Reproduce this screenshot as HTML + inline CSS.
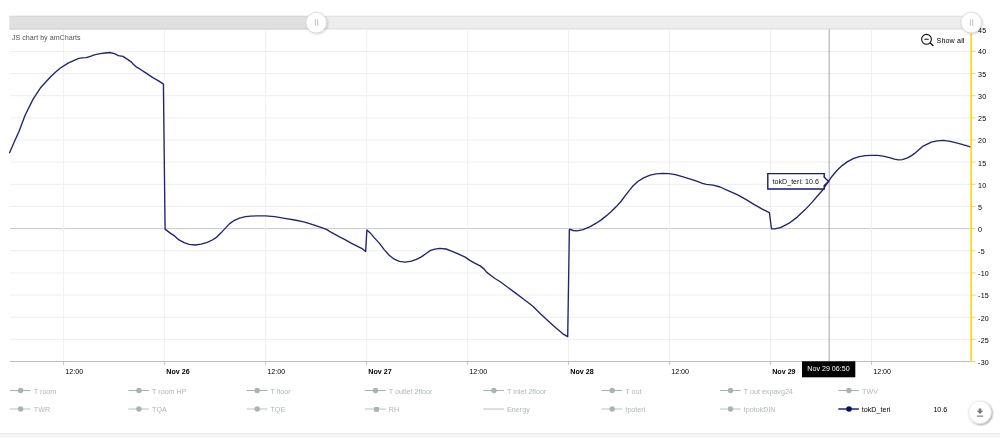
<!DOCTYPE html>
<html><head><meta charset="utf-8"><title>chart</title>
<style>
html,body{margin:0;padding:0;background:#fff;}
body{width:1000px;height:438px;overflow:hidden;position:relative;font-family:"Liberation Sans",sans-serif;}
</style></head><body>
<svg width="1000" height="438" viewBox="0 0 1000 438" style="position:absolute;left:0;top:0;font-family:'Liberation Sans',sans-serif;">
<defs><filter id="sh2" x="-30%" y="-30%" width="160%" height="160%"><feGaussianBlur in="SourceAlpha" stdDeviation="0.9"/><feOffset dx="0.6" dy="0.9"/><feComponentTransfer><feFuncA type="linear" slope="0.42"/></feComponentTransfer><feMerge><feMergeNode/><feMergeNode in="SourceGraphic"/></feMerge></filter><filter id="soft" x="0" y="0" width="1000" height="438" filterUnits="userSpaceOnUse"><feGaussianBlur stdDeviation="0.3"/></filter><filter id="sh" x="-30%" y="-30%" width="160%" height="160%"><feGaussianBlur in="SourceAlpha" stdDeviation="1"/><feOffset dx="0.7" dy="0.7"/><feComponentTransfer><feFuncA type="linear" slope="0.18"/></feComponentTransfer><feMerge><feMergeNode/><feMergeNode in="SourceGraphic"/></feMerge></filter></defs>
<rect width="1000" height="438" fill="#fff"/>
<g filter="url(#soft)">
<rect x="0" y="433" width="1000" height="5" fill="#f6f6f6"/>
<rect x="0" y="432.9" width="1000" height="1.0" fill="#e8eaed"/>
<line x1="10.0" x2="970.8" y1="339.35" y2="339.35" stroke="#eeeeee" stroke-width="1.0"/>
<line x1="10.0" x2="970.8" y1="317.20" y2="317.20" stroke="#eeeeee" stroke-width="1.0"/>
<line x1="10.0" x2="970.8" y1="295.05" y2="295.05" stroke="#eeeeee" stroke-width="1.0"/>
<line x1="10.0" x2="970.8" y1="272.90" y2="272.90" stroke="#eeeeee" stroke-width="1.0"/>
<line x1="10.0" x2="970.8" y1="250.75" y2="250.75" stroke="#eeeeee" stroke-width="1.0"/>
<line x1="10.0" x2="970.8" y1="228.60" y2="228.60" stroke="#c9c9c9" stroke-width="1.0"/>
<line x1="10.0" x2="970.8" y1="206.45" y2="206.45" stroke="#eeeeee" stroke-width="1.0"/>
<line x1="10.0" x2="970.8" y1="184.30" y2="184.30" stroke="#eeeeee" stroke-width="1.0"/>
<line x1="10.0" x2="970.8" y1="162.15" y2="162.15" stroke="#eeeeee" stroke-width="1.0"/>
<line x1="10.0" x2="970.8" y1="140.00" y2="140.00" stroke="#eeeeee" stroke-width="1.0"/>
<line x1="10.0" x2="970.8" y1="117.85" y2="117.85" stroke="#eeeeee" stroke-width="1.0"/>
<line x1="10.0" x2="970.8" y1="95.70" y2="95.70" stroke="#eeeeee" stroke-width="1.0"/>
<line x1="10.0" x2="970.8" y1="73.55" y2="73.55" stroke="#eeeeee" stroke-width="1.0"/>
<line x1="10.0" x2="970.8" y1="51.40" y2="51.40" stroke="#eeeeee" stroke-width="1.0"/>
<line x1="63.61" x2="63.61" y1="29.25" y2="364.50" stroke="#f0f0f0" stroke-width="1.0"/>
<line x1="164.60" x2="164.60" y1="29.25" y2="364.50" stroke="#f0f0f0" stroke-width="1.0"/>
<line x1="265.59" x2="265.59" y1="29.25" y2="364.50" stroke="#f0f0f0" stroke-width="1.0"/>
<line x1="366.58" x2="366.58" y1="29.25" y2="364.50" stroke="#f0f0f0" stroke-width="1.0"/>
<line x1="467.57" x2="467.57" y1="29.25" y2="364.50" stroke="#f0f0f0" stroke-width="1.0"/>
<line x1="568.56" x2="568.56" y1="29.25" y2="364.50" stroke="#f0f0f0" stroke-width="1.0"/>
<line x1="669.55" x2="669.55" y1="29.25" y2="364.50" stroke="#f0f0f0" stroke-width="1.0"/>
<line x1="770.54" x2="770.54" y1="29.25" y2="364.50" stroke="#f0f0f0" stroke-width="1.0"/>
<line x1="871.53" x2="871.53" y1="29.25" y2="364.50" stroke="#f0f0f0" stroke-width="1.0"/>
<line x1="63.61" x2="63.61" y1="361.50" y2="364.80" stroke="#c6c6c6" stroke-width="1.0"/>
<line x1="164.60" x2="164.60" y1="361.50" y2="364.80" stroke="#c6c6c6" stroke-width="1.0"/>
<line x1="265.59" x2="265.59" y1="361.50" y2="364.80" stroke="#c6c6c6" stroke-width="1.0"/>
<line x1="366.58" x2="366.58" y1="361.50" y2="364.80" stroke="#c6c6c6" stroke-width="1.0"/>
<line x1="467.57" x2="467.57" y1="361.50" y2="364.80" stroke="#c6c6c6" stroke-width="1.0"/>
<line x1="568.56" x2="568.56" y1="361.50" y2="364.80" stroke="#c6c6c6" stroke-width="1.0"/>
<line x1="669.55" x2="669.55" y1="361.50" y2="364.80" stroke="#c6c6c6" stroke-width="1.0"/>
<line x1="770.54" x2="770.54" y1="361.50" y2="364.80" stroke="#c6c6c6" stroke-width="1.0"/>
<line x1="871.53" x2="871.53" y1="361.50" y2="364.80" stroke="#c6c6c6" stroke-width="1.0"/>
<line x1="10.0" x2="970.8" y1="361.50" y2="361.50" stroke="#b4b4b4" stroke-width="0.9"/>
<text transform="translate(65.3,373.6) scale(1,0.94)" font-size="7.15" fill="#000">12:00</text>
<text transform="translate(166.3,373.6) scale(1,0.94)" font-size="7.15" fill="#000" font-weight="bold">Nov 26</text>
<text transform="translate(267.3,373.6) scale(1,0.94)" font-size="7.15" fill="#000">12:00</text>
<text transform="translate(368.3,373.6) scale(1,0.94)" font-size="7.15" fill="#000" font-weight="bold">Nov 27</text>
<text transform="translate(469.3,373.6) scale(1,0.94)" font-size="7.15" fill="#000">12:00</text>
<text transform="translate(570.3,373.6) scale(1,0.94)" font-size="7.15" fill="#000" font-weight="bold">Nov 28</text>
<text transform="translate(671.2,373.6) scale(1,0.94)" font-size="7.15" fill="#000">12:00</text>
<text transform="translate(772.2,373.6) scale(1,0.94)" font-size="7.15" fill="#000" font-weight="bold">Nov 29</text>
<text transform="translate(873.2,373.6) scale(1,0.94)" font-size="7.15" fill="#000">12:00</text>
<rect x="9.5" y="15.7" width="961.5" height="13.9" fill="#ededed"/>
<rect x="9.5" y="15.7" width="307" height="13.9" fill="#e0e0e0"/>
<rect x="9.5" y="15.7" width="961.5" height="1.2" fill="#000" fill-opacity="0.035"/>
<rect x="9.5" y="28.3" width="961.5" height="1.3" fill="#000" fill-opacity="0.055"/>
<text transform="translate(12,39.6) scale(1,0.94)" font-size="7.15" fill="#555">JS chart by amCharts</text>
<line x1="829.2" x2="829.2" y1="29.25" y2="361.50" stroke="#9c9c9c" stroke-width="0.9"/>
<path d="M9.6,152.7 L14.1,142.3 L19.1,131.2 L25.1,115.2 L33.1,99.1 L41.0,87.2 L46.0,81.7 L51.1,76.2 L55.1,72.6 L60.1,68.3 L68.1,63.1 L74.2,60.3 L78.7,58.3 L82.2,57.9 L86.2,57.6 L90.3,56.3 L94.3,54.9 L100.3,53.7 L105.3,53.0 L109.8,52.5 L114.4,53.7 L118.4,55.6 L122.9,56.4 L126.4,58.6 L131.5,62.1 L133.1,64.0 L136.6,67.2 L140.1,69.2 L146.1,73.1 L153.2,77.9 L158.2,80.6 L163.4,84.1 L165.1,229.1 L169.6,232.6 L174.1,235.6 L178.6,239.7 L184.1,242.7 L189.2,244.4 L195.2,245.0 L201.2,244.2 L207.3,242.4 L212.3,240.0 L216.8,237.1 L221.3,232.6 L225.4,228.1 L229.4,223.9 L234.4,220.3 L239.4,218.1 L245.5,216.6 L250.5,216.2 L256.5,215.9 L265.6,215.9 L274.6,216.7 L284.7,218.3 L294.7,220.0 L303.8,221.8 L312.8,224.6 L320.9,227.4 L326.9,229.6 L330.9,232.2 L340.0,237.1 L345.0,239.6 L351.1,243.1 L357.1,246.1 L362.6,248.9 L365.6,251.6 L366.9,230.0 L370.2,232.9 L374.2,237.6 L379.7,243.6 L384.2,249.6 L389.2,255.2 L394.3,259.2 L399.3,261.4 L405.3,262.2 L411.4,261.2 L416.4,259.4 L421.4,256.9 L426.4,253.2 L430.5,250.4 L435.0,249.2 L440.0,248.3 L446.1,249.0 L452.1,251.3 L458.1,253.9 L465.2,257.1 L470.2,260.6 L475.2,263.4 L480.2,265.9 L484.2,269.1 L486.8,272.4 L491.3,275.7 L495.3,278.7 L500.3,281.8 L514.6,292.4 L523.4,299.0 L532.9,306.3 L540.2,313.6 L548.2,320.9 L556.3,328.2 L562.9,333.8 L567.7,336.7 L569.4,229.2 L573.1,230.5 L577.1,230.9 L583.1,229.7 L590.2,226.7 L596.2,223.2 L601.2,219.9 L606.2,215.9 L611.3,211.6 L616.3,206.6 L621.3,201.0 L626.0,194.7 L632.6,186.3 L638.1,181.3 L644.1,177.6 L650.2,175.1 L656.2,173.8 L663.2,173.3 L669.2,173.6 L675.3,174.6 L682.3,176.6 L690.4,179.1 L697.4,181.4 L702.4,183.3 L706.4,184.3 L713.1,185.2 L720.1,187.0 L728.1,190.6 L737.2,194.6 L746.2,199.6 L754.3,204.6 L762.3,209.2 L769.4,212.7 L771.5,228.8 L775.0,228.9 L781.1,227.4 L789.1,223.2 L797.2,217.1 L805.2,209.6 L812.2,202.1 L818.3,195.0 L822.8,190.0 L828.1,181.9 L832.1,176.2 L837.1,170.2 L842.1,165.6 L847.2,161.9 L853.2,158.6 L859.2,156.6 L865.3,155.6 L871.3,155.3 L877.3,155.4 L883.3,156.1 L889.4,157.6 L894.4,159.1 L898.4,159.8 L902.4,159.6 L907.5,157.9 L911.5,155.6 L914.6,153.4 L923.2,146.1 L931.3,142.1 L937.3,140.8 L943.3,140.4 L950.4,141.3 L958.4,143.4 L965.4,145.4 L970.3,146.9" fill="none" stroke="#20246f" stroke-width="1.35" stroke-linejoin="round" stroke-linecap="round"/>
<line x1="971.1" x2="971.1" y1="29.25" y2="361.50" stroke="#fcd202" stroke-width="1.5"/>
<line x1="971.1" x2="975.5" y1="361.50" y2="361.50" stroke="#fcd202" stroke-width="0.8"/>
<text transform="translate(978.1,364.9) scale(1,0.94)" font-size="7.15" letter-spacing="0.15" fill="#000">-30</text>
<line x1="971.1" x2="975.5" y1="339.35" y2="339.35" stroke="#fcd202" stroke-width="0.8"/>
<text transform="translate(978.1,342.8) scale(1,0.94)" font-size="7.15" letter-spacing="0.15" fill="#000">-25</text>
<line x1="971.1" x2="975.5" y1="317.20" y2="317.20" stroke="#fcd202" stroke-width="0.8"/>
<text transform="translate(978.1,320.6) scale(1,0.94)" font-size="7.15" letter-spacing="0.15" fill="#000">-20</text>
<line x1="971.1" x2="975.5" y1="295.05" y2="295.05" stroke="#fcd202" stroke-width="0.8"/>
<text transform="translate(978.1,298.4) scale(1,0.94)" font-size="7.15" letter-spacing="0.15" fill="#000">-15</text>
<line x1="971.1" x2="975.5" y1="272.90" y2="272.90" stroke="#fcd202" stroke-width="0.8"/>
<text transform="translate(978.1,276.3) scale(1,0.94)" font-size="7.15" letter-spacing="0.15" fill="#000">-10</text>
<line x1="971.1" x2="975.5" y1="250.75" y2="250.75" stroke="#fcd202" stroke-width="0.8"/>
<text transform="translate(978.1,254.2) scale(1,0.94)" font-size="7.15" letter-spacing="0.15" fill="#000">-5</text>
<line x1="971.1" x2="975.5" y1="228.60" y2="228.60" stroke="#fcd202" stroke-width="0.8"/>
<text transform="translate(978.1,232.0) scale(1,0.94)" font-size="7.15" letter-spacing="0.15" fill="#000">0</text>
<line x1="971.1" x2="975.5" y1="206.45" y2="206.45" stroke="#fcd202" stroke-width="0.8"/>
<text transform="translate(978.1,209.8) scale(1,0.94)" font-size="7.15" letter-spacing="0.15" fill="#000">5</text>
<line x1="971.1" x2="975.5" y1="184.30" y2="184.30" stroke="#fcd202" stroke-width="0.8"/>
<text transform="translate(978.1,187.7) scale(1,0.94)" font-size="7.15" letter-spacing="0.15" fill="#000">10</text>
<line x1="971.1" x2="975.5" y1="162.15" y2="162.15" stroke="#fcd202" stroke-width="0.8"/>
<text transform="translate(978.1,165.6) scale(1,0.94)" font-size="7.15" letter-spacing="0.15" fill="#000">15</text>
<line x1="971.1" x2="975.5" y1="140.00" y2="140.00" stroke="#fcd202" stroke-width="0.8"/>
<text transform="translate(978.1,143.4) scale(1,0.94)" font-size="7.15" letter-spacing="0.15" fill="#000">20</text>
<line x1="971.1" x2="975.5" y1="117.85" y2="117.85" stroke="#fcd202" stroke-width="0.8"/>
<text transform="translate(978.1,121.2) scale(1,0.94)" font-size="7.15" letter-spacing="0.15" fill="#000">25</text>
<line x1="971.1" x2="975.5" y1="95.70" y2="95.70" stroke="#fcd202" stroke-width="0.8"/>
<text transform="translate(978.1,99.1) scale(1,0.94)" font-size="7.15" letter-spacing="0.15" fill="#000">30</text>
<line x1="971.1" x2="975.5" y1="73.55" y2="73.55" stroke="#fcd202" stroke-width="0.8"/>
<text transform="translate(978.1,77.0) scale(1,0.94)" font-size="7.15" letter-spacing="0.15" fill="#000">35</text>
<line x1="971.1" x2="975.5" y1="51.40" y2="51.40" stroke="#fcd202" stroke-width="0.8"/>
<text transform="translate(978.1,54.2) scale(1,0.94)" font-size="7.15" letter-spacing="0.15" fill="#000">40</text>
<line x1="971.1" x2="975.5" y1="29.25" y2="29.25" stroke="#fcd202" stroke-width="0.8"/>
<text transform="translate(978.1,33.2) scale(1,0.94)" font-size="7.15" letter-spacing="0.15" fill="#000">45</text>
<circle cx="316.2" cy="22.6" r="10.4" fill="#fff" stroke="#cfcfcf" stroke-width="0.7" filter="url(#sh)"/>
<line x1="315.4" x2="315.4" y1="19.3" y2="25.8" stroke="#a0a0a0" stroke-width="0.65"/>
<line x1="317.7" x2="317.7" y1="19.3" y2="25.8" stroke="#a0a0a0" stroke-width="0.65"/>
<circle cx="971.2" cy="22.6" r="10.4" fill="#fff" stroke="#cfcfcf" stroke-width="0.7" filter="url(#sh)"/>
<line x1="970.4000000000001" x2="970.4000000000001" y1="19.3" y2="25.8" stroke="#a0a0a0" stroke-width="0.65"/>
<line x1="972.7" x2="972.7" y1="19.3" y2="25.8" stroke="#a0a0a0" stroke-width="0.65"/>
<g stroke="#111" fill="none" stroke-width="1.1" stroke-linecap="round"><circle cx="926.5" cy="39.3" r="4.9"/><line x1="924.8" x2="928.3" y1="39.3" y2="39.3"/><line x1="930.2" x2="933" y1="43" y2="45.6" stroke-width="1.3"/></g>
<text transform="translate(936.5,42.5) scale(1,0.94)" font-size="7.15" letter-spacing="0.14" fill="#000">Show all</text>
<path d="M767.8,173.6 H824.2 V177.3 L828.6,181.4 L824.2,185.5 V189 H767.8 Z" fill="#fff" stroke="#171a66" stroke-width="1.4" stroke-linejoin="miter"/>
<text transform="translate(772.5,183.7) scale(1,0.94)" font-size="7.15" fill="#111">tokD_teri: 10.6</text>
<rect x="802" y="361.3" width="53.3" height="16" fill="#000"/>
<text transform="translate(828.5,370.9) scale(1,0.94)" font-size="7.15" fill="#fff" text-anchor="middle">Nov 29 06:50</text>
<line x1="10.0" x2="30.6" y1="390.5" y2="390.5" stroke="#AAB3B3" stroke-width="1.1"/>
<circle cx="20.6" cy="390.5" r="2.7" fill="#AAB3B3"/>
<text transform="translate(33.8,393.9) scale(1,0.94)" font-size="7.15" fill="#afb7b7">T room</text>
<line x1="128.3" x2="148.9" y1="390.5" y2="390.5" stroke="#AAB3B3" stroke-width="1.1"/>
<circle cx="138.9" cy="390.5" r="2.7" fill="#AAB3B3"/>
<text transform="translate(152.1,393.9) scale(1,0.94)" font-size="7.15" fill="#afb7b7">T room HP</text>
<line x1="246.7" x2="267.3" y1="390.5" y2="390.5" stroke="#AAB3B3" stroke-width="1.1"/>
<circle cx="257.2" cy="390.5" r="2.7" fill="#AAB3B3"/>
<text transform="translate(270.5,393.9) scale(1,0.94)" font-size="7.15" fill="#afb7b7">T floor</text>
<line x1="365.0" x2="385.6" y1="390.5" y2="390.5" stroke="#AAB3B3" stroke-width="1.1"/>
<circle cx="375.5" cy="390.5" r="2.7" fill="#AAB3B3"/>
<text transform="translate(388.8,393.9) scale(1,0.94)" font-size="7.15" fill="#afb7b7">T outlet 2floor</text>
<line x1="483.3" x2="503.9" y1="390.5" y2="390.5" stroke="#AAB3B3" stroke-width="1.1"/>
<circle cx="493.9" cy="390.5" r="2.7" fill="#AAB3B3"/>
<text transform="translate(507.1,393.9) scale(1,0.94)" font-size="7.15" fill="#afb7b7">T inlet 2floor</text>
<line x1="601.6" x2="622.2" y1="390.5" y2="390.5" stroke="#AAB3B3" stroke-width="1.1"/>
<circle cx="612.2" cy="390.5" r="2.7" fill="#AAB3B3"/>
<text transform="translate(625.4,393.9) scale(1,0.94)" font-size="7.15" fill="#afb7b7">T out</text>
<line x1="720.0" x2="740.6" y1="390.5" y2="390.5" stroke="#AAB3B3" stroke-width="1.1"/>
<circle cx="730.5" cy="390.5" r="2.7" fill="#AAB3B3"/>
<text transform="translate(743.8,393.9) scale(1,0.94)" font-size="7.15" fill="#afb7b7">T out expavg24</text>
<line x1="838.3" x2="858.9" y1="390.5" y2="390.5" stroke="#AAB3B3" stroke-width="1.1"/>
<circle cx="848.9" cy="390.5" r="2.7" fill="#AAB3B3"/>
<text transform="translate(862.1,393.9) scale(1,0.94)" font-size="7.15" fill="#afb7b7">TWV</text>
<line x1="10.0" x2="30.6" y1="409.0" y2="409.0" stroke="#AAB3B3" stroke-width="0.8"/>
<circle cx="20.6" cy="409.0" r="2.7" fill="#AAB3B3"/>
<text transform="translate(33.8,411.9) scale(1,0.94)" font-size="7.15" fill="#afb7b7">TWR</text>
<line x1="128.3" x2="148.9" y1="409.0" y2="409.0" stroke="#AAB3B3" stroke-width="0.8"/>
<circle cx="138.9" cy="409.0" r="2.7" fill="#AAB3B3"/>
<text transform="translate(152.1,411.9) scale(1,0.94)" font-size="7.15" fill="#afb7b7">TQA</text>
<line x1="246.7" x2="267.3" y1="409.0" y2="409.0" stroke="#AAB3B3" stroke-width="0.8"/>
<circle cx="257.2" cy="409.0" r="2.7" fill="#AAB3B3"/>
<text transform="translate(270.5,411.9) scale(1,0.94)" font-size="7.15" fill="#afb7b7">TQE</text>
<line x1="365.0" x2="385.6" y1="409.0" y2="409.0" stroke="#AAB3B3" stroke-width="0.8"/>
<rect x="374.1" y="407.0" width="4.8" height="4.8" fill="#AAB3B3"/>
<text transform="translate(388.8,411.9) scale(1,0.94)" font-size="7.15" fill="#afb7b7">RH</text>
<line x1="483.3" x2="503.9" y1="409.0" y2="409.0" stroke="#AAB3B3" stroke-width="0.8"/>
<text transform="translate(507.1,411.9) scale(1,0.94)" font-size="7.15" fill="#afb7b7">Energy</text>
<line x1="601.6" x2="622.2" y1="409.0" y2="409.0" stroke="#AAB3B3" stroke-width="0.8"/>
<circle cx="612.2" cy="409.0" r="2.7" fill="#AAB3B3"/>
<text transform="translate(625.4,411.9) scale(1,0.94)" font-size="7.15" fill="#afb7b7">tpoteri</text>
<line x1="720.0" x2="740.6" y1="409.0" y2="409.0" stroke="#AAB3B3" stroke-width="0.8"/>
<circle cx="730.5" cy="409.0" r="2.7" fill="#AAB3B3"/>
<text transform="translate(743.8,411.9) scale(1,0.94)" font-size="7.15" fill="#afb7b7">tpotokDIN</text>
<line x1="838.3" x2="858.9" y1="409.0" y2="409.0" stroke="#25277e" stroke-width="1.5"/>
<circle cx="849.0" cy="409.0" r="2.8" fill="#0b0b5c"/>
<text transform="translate(861.8,411.9) scale(1,0.94)" font-size="7.15" fill="#000">tokD_teri</text>
<text transform="translate(947.3,411.9) scale(1,0.94)" font-size="7.15" fill="#000" text-anchor="end">10.6</text>
<circle cx="979.9" cy="412.3" r="11.3" fill="#fff" stroke="#dcdcdc" stroke-width="0.6" filter="url(#sh2)"/>
<path d="M978.7,408.4 h2.6 v2.4 h2 l-3.3,3.2 l-3.3,-3.2 h2 z" fill="#777"/>
<rect x="976.8" y="415.6" width="6.4" height="1.0" fill="#6a6a6a"/>
</g>
</svg>
</body></html>
